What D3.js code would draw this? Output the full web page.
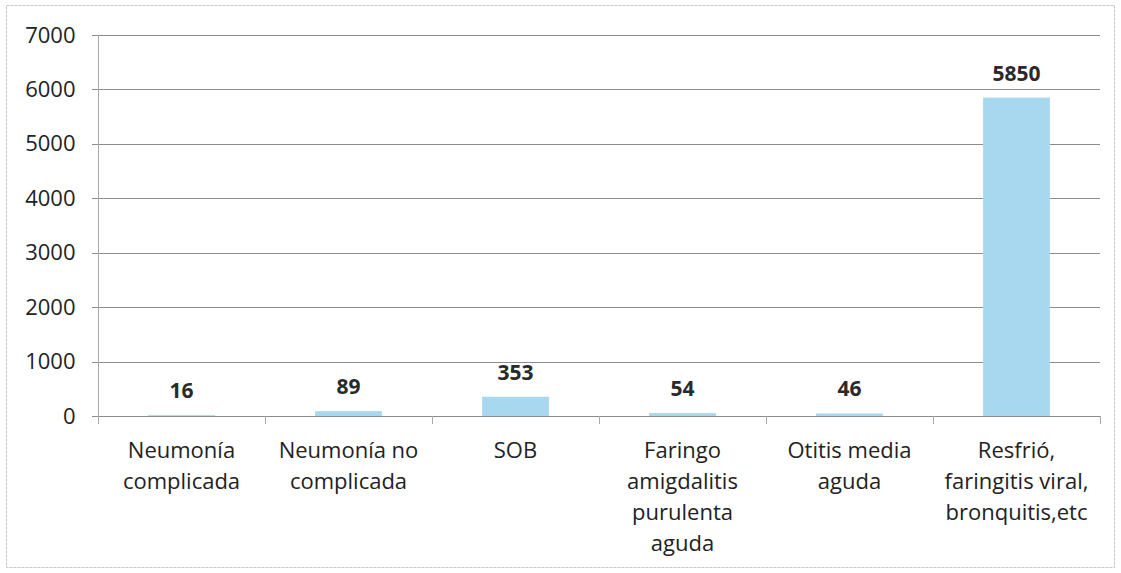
<!DOCTYPE html>
<html><head><meta charset="utf-8">
<script src="https://cdn.jsdelivr.net/npm/d3@7"></script>
<style>body{margin:0;background:#fff}</style>
</head><body>
<svg id="c" width="1121" height="573"></svg>
<script>
const categories = [
  ["Neumonía","complicada"],
  ["Neumonía no","complicada"],
  ["SOB"],
  ["Faringo","amigdalitis","purulenta","aguda"],
  ["Otitis media","aguda"],
  ["Resfrió,","faringitis viral,","bronquitis,etc"]
];
const values = [16, 89, 353, 54, 46, 5850];
const yTicks = [0,1000,2000,3000,4000,5000,6000,7000];

const svg = d3.select("#c");
const font = "'Open Sans', sans-serif";
const m = {l:98, r:1100, t:35, b:416};

svg.append("rect").attr("x",6.5).attr("y",5.5).attr("width",1108).attr("height",562)
  .attr("fill","none").attr("stroke","#c4c4c4").attr("stroke-dasharray","3,1");

const x = d3.scaleBand().domain(d3.range(categories.length)).range([m.l,m.r]).paddingInner(0.6).paddingOuter(0.3);
const xb = d3.scaleBand().domain(d3.range(categories.length)).range([m.l,m.r]);
const y = d3.scaleLinear().domain([0,7000]).range([m.b,m.t]);

// gridlines
svg.append("g").selectAll("line").data(yTicks).join("line")
  .attr("x1",m.l-6).attr("x2",m.r).attr("y1",d=>Math.round(y(d))+0.5).attr("y2",d=>Math.round(y(d))+0.5)
  .attr("stroke","#8c8c8c").attr("stroke-width",1);

// y axis
const ya = d3.axisLeft(y).tickValues(yTicks).tickSize(0).tickPadding(23).tickFormat(d3.format("d"));
const gy = svg.append("g").attr("transform",`translate(${m.l+0.5},0)`).call(ya);
gy.select(".domain").remove();
gy.selectAll("text").attr("font-family",font).attr("font-size",22).attr("fill","#222");
svg.append("line").attr("x1",m.l+0.5).attr("x2",m.l+0.5).attr("y1",m.t).attr("y2",m.b+8).attr("stroke","#aaa");

// x ticks
const xa = d3.axisBottom(xb).tickSize(0).tickFormat("");
const gx = svg.append("g").attr("transform",`translate(0,${m.b+0.5})`).call(xa);
gx.select(".domain").remove();
svg.append("g").selectAll("line").data(d3.range(1,categories.length+1)).join("line")
  .attr("x1",i=>Math.round(m.l+i*xb.bandwidth())+0.5).attr("x2",i=>Math.round(m.l+i*xb.bandwidth())+0.5)
  .attr("y1",m.b).attr("y2",m.b+8).attr("stroke","#aaa");

// bars
svg.append("g").selectAll("rect").data(values).join("rect")
  .attr("x",(d,i)=>x(i)).attr("width",x.bandwidth())
  .attr("y",d=>y(d)).attr("height",d=>y(0)-y(d))
  .attr("fill","#a8d8f0");

// value labels
svg.append("g").selectAll("text").data(values).join("text")
  .attr("x",(d,i)=>x(i)+x.bandwidth()/2).attr("y",d=>y(d)-17)
  .attr("text-anchor","middle").attr("font-family",font).attr("font-weight","bold")
  .attr("font-size",21).attr("fill","#2a2a2a").text(d=>d);

// category labels
const cl = svg.append("g").selectAll("text").data(categories).join("text")
  .attr("text-anchor","middle").attr("font-family",font).attr("font-size",22).attr("fill","#222");
cl.each(function(lines,i){
  d3.select(this).selectAll("tspan").data(lines).join("tspan")
    .attr("x",xb(i)+xb.bandwidth()/2).attr("y",(d,j)=>458+j*31).text(d=>d);
});
</script>
</body></html>
